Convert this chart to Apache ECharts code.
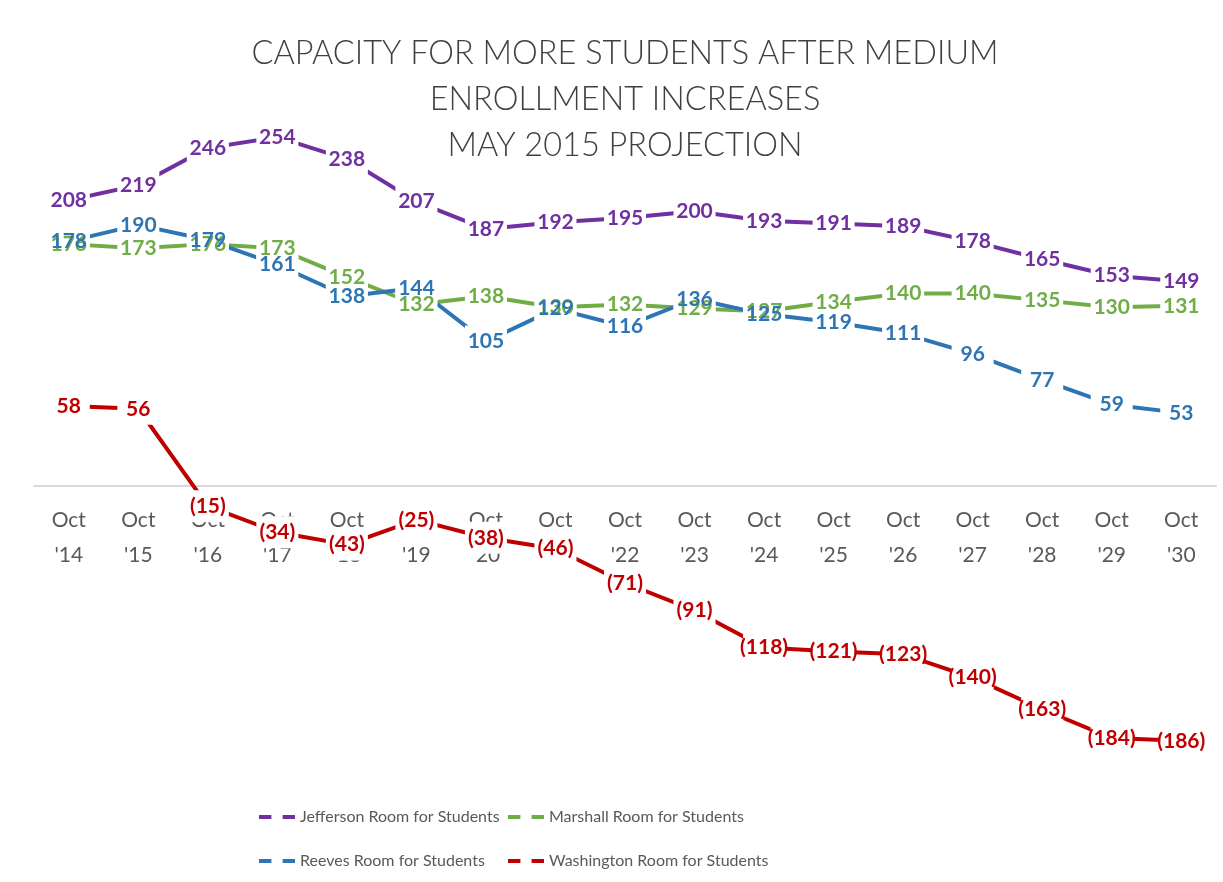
<!DOCTYPE html>
<html>
<head>
<meta charset="utf-8">
<script src="https://cdn.jsdelivr.net/npm/echarts@6/dist/echarts.min.js"></script>
<style>
  html, body { margin: 0; padding: 0; background: #fff; }
  #chart { width: 1223px; height: 882px; }
</style>
</head>
<body>
<div id="chart"></div>
<script>
// values
const years = ["'14", "'15", "'16", "'17", "'18", "'19", "'20", "'21", "'22", "'23", "'24", "'25", "'26", "'27", "'28", "'29", "'30"];
const categories = years.map(y => 'Oct\n' + y);

const jefferson = [208, 219, 246, 254, 238, 207, 187, 192, 195, 200, 193, 191, 189, 178, 165, 153, 149];
const marshall = [176, 173, 176, 173, 152, 132, 138, 130, 132, 129, 127, 134, 140, 140, 135, 130, 131];
const reeves = [178, 190, 179, 161, 138, 144, 105, 129, 116, 136, 125, 119, 111, 96, 77, 59, 53];
const washington = [58, 56, -15, -34, -43, -25, -38, -46, -71, -91, -118, -121, -123, -140, -163, -184, -186];

const seriesNames = [
  'Jefferson Room for Students',
  'Marshall Room for Students',
  'Reeves Room for Students',
  'Washington Room for Students'
];
const colors = ['#7030A0', '#70AD47', '#2E75B6', '#C00000'];

function makeSeries(name, data, color) {
  return {
    name: name,
    type: 'line',
    data: data,
    symbol: 'rect',
    symbolSize: [42, 32],
    itemStyle: { color: '#fff', borderWidth: 0 },
    lineStyle: { color: color, width: 4 },
    label: {
      show: true,
      position: 'inside',
      color: color,
      fontFamily: 'Lato',
      fontWeight: 'bold',
      fontSize: 21,
      formatter: p => p.value < 0 ? '(' + Math.abs(p.value) + ')' : String(p.value)
    },
    emphasis: { disabled: true },
    animation: false
  };
}

// one legend per entry so the two columns line up like the original
const legendSlots = [[252, 804], [501, 804], [252, 848], [501, 848]];
const legends = seriesNames.map((n, i) => ({
  data: [n],
  left: legendSlots[i][0],
  top: legendSlots[i][1],
  itemWidth: 36, itemHeight: 14,
  lineStyle: { width: 4 },
  textStyle: { fontFamily: 'Lato', fontSize: 16, color: '#595959' }
}));

const chart = echarts.init(document.getElementById('chart'));
chart.setOption({
  backgroundColor: '#fff',
  title: {
    text: 'CAPACITY FOR MORE STUDENTS AFTER MEDIUM\nENROLLMENT INCREASES\nMAY 2015 PROJECTION',
    left: 620,
    top: 26,
    textAlign: 'center',
    textStyle: {
      fontFamily: 'Lato',
      fontWeight: 300,
      fontSize: 32.5,
      lineHeight: 46,
      color: '#404040'
    }
  },
  legend: legends,
  grid: { left: 34, right: 7, top: 74, bottom: 122, containLabel: false },
  xAxis: {
    type: 'category',
    data: categories,
    boundaryGap: true,
    offset: -274.5,
    axisLine: { onZero: false, lineStyle: { color: '#d9d9d9', width: 2 } },
    axisTick: { show: false },
    axisLabel: {
      color: '#595959',
      fontFamily: 'Lato',
      fontSize: 21,
      lineHeight: 35,
      margin: 17,
      interval: 0
    }
  },
  yAxis: {
    type: 'value',
    min: -200,
    max: 300,
    show: false,
    splitLine: { show: false }
  },
  series: [
    makeSeries(seriesNames[0], jefferson, colors[0]),
    makeSeries(seriesNames[1], marshall, colors[1]),
    makeSeries(seriesNames[2], reeves, colors[2]),
    makeSeries(seriesNames[3], washington, colors[3])
  ]
});
</script>
</body>
</html>
